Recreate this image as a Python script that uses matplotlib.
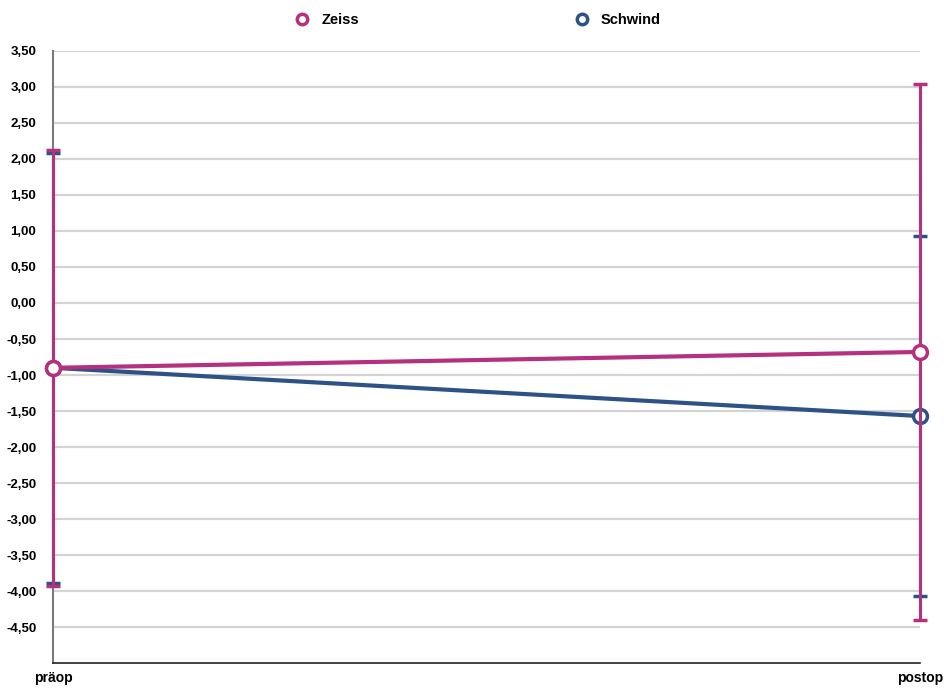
import numpy as np
import matplotlib.pyplot as plt
from matplotlib.lines import Line2D

plt.rcParams['font.family'] = ['Liberation Sans', 'DejaVu Sans']

# data
zeitpunkte = ['präop', 'postop']
zeiss_mean = [-0.90, -0.68]
zeiss_sd = [3.03, 3.72]
schwind_mean = [-0.90, -1.57]
schwind_sd = [2.99, 2.50]

ytick_werte = np.arange(-4.5, 3.51, 0.5)

farbe_zeiss = '#B5317F'
farbe_schwind = '#2D5286'

fig = plt.figure(figsize=(9.44, 6.88), dpi=100)
ax = fig.add_axes([0.0561, 0.0363, 0.9185, 0.8896])

x = np.arange(len(zeitpunkte))

# Schwind below, Zeiss on top
ax.errorbar(x, schwind_mean, yerr=schwind_sd, color=farbe_schwind, lw=3,
            elinewidth=2.2, capsize=5, capthick=2.2, marker='o', ms=10,
            mfc='white', mec=farbe_schwind, mew=2.5, clip_on=False,
            zorder=3, label='Schwind')
ax.errorbar(x, zeiss_mean, yerr=zeiss_sd, color=farbe_zeiss, lw=3,
            elinewidth=2.2, capsize=5, capthick=2.2, marker='o', ms=10,
            mfc='white', mec=farbe_zeiss, mew=2.5, clip_on=False,
            zorder=4, label='Zeiss')

ax.set_xlim(0, 1)
ax.set_ylim(-5, 3.5)
ax.set_yticks(ytick_werte)
ax.set_yticklabels([('%.2f' % v).replace('.', ',') for v in ytick_werte],
                   fontsize=9.5, fontweight='bold')
ax.set_xticks(x)
ax.set_xticklabels(zeitpunkte, fontsize=10, fontweight='bold')
ax.tick_params(axis='y', length=0, pad=12)
ax.tick_params(axis='x', length=0, pad=6)

ax.yaxis.grid(True, color='#d4d4d4', lw=1.6)
ax.set_axisbelow(True)
for s in ['top', 'right']:
    ax.spines[s].set_visible(False)
ax.spines['left'].set_color('#7a7a7a')
ax.spines['left'].set_linewidth(1.5)
ax.spines['bottom'].set_color('#222222')
ax.spines['bottom'].set_linewidth(1.2)

h = [Line2D([], [], ls='none', marker='o', ms=7.5, mfc='white', mec=farbe_zeiss, mew=2.5),
     Line2D([], [], ls='none', marker='o', ms=7.5, mfc='white', mec=farbe_schwind, mew=2.5)]
fig.legend(h, ['Zeiss', 'Schwind'], loc='center', bbox_to_anchor=(0.5026, 0.971),
           ncol=2, frameon=False, columnspacing=14.3, handletextpad=0.3,
           prop={'weight': 'bold', 'size': 10.5})

fig.savefig('out.png', dpi=100)
